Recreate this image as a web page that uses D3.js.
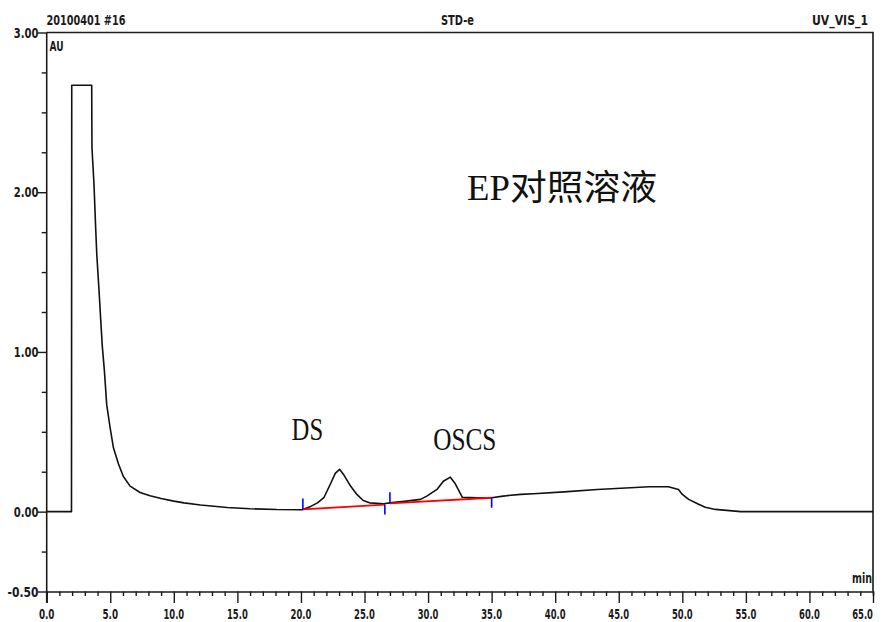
<!DOCTYPE html>
<html><head><meta charset="utf-8">
<script src="https://cdn.jsdelivr.net/npm/d3@7"></script>
<style>html,body{margin:0;padding:0;background:#fff;}svg{display:block;}</style>
</head><body>
<script>
// ---- data ----
const headerLeft = "20100401 #16";
const headerMid = "STD-e";
const headerRight = "UV_VIS_1";
const yUnit = "AU";
const xUnit = "min";
const chartTitle = "EP对照溶液";
const xDomain = [0, 65];
const yDomain = [-0.5, 3.0];
const xMajorTicks = [0,5,10,15,20,25,30,35,40,45,50,55,60,65];
const xTickLabels = ["0.0","5.0","10.0","15.0","20.0","25.0","30.0","35.0","40.0","45.0","50.0","55.0","60.0","65.0"];
const yMajorTicks = [-0.5, 0, 1, 2, 3];
const yTickLabels = ["-0.50","0.00","1.00","2.00","3.00"];
const signalTimes = [0,1.95,1.97,3.54,3.56,3.72,3.85,3.94,4.12,4.25,4.38,4.54,4.72,4.98,5.25,5.64,6.03,6.56,7.35,8.13,9.0,10.0,10.8,12.1,14.2,16.0,18.1,20.1,20.7,21.3,21.8,22.3,22.7,23.04,23.35,23.9,24.4,24.9,25.4,26.5,27.0,28.3,29.4,29.9,30.7,31.2,31.75,32.1,32.7,33.9,35.0,35.9,36.2,37.3,38.3,40.7,43.3,47.4,48.9,49.7,50.0,50.5,51.2,51.8,52.6,54.6,65.0];
const signalValues = [0,0,2.67,2.67,2.28,2.05,1.78,1.61,1.38,1.20,1.03,0.88,0.67,0.53,0.40,0.30,0.22,0.16,0.12,0.10,0.082,0.066,0.055,0.042,0.026,0.018,0.013,0.012,0.03,0.055,0.087,0.17,0.24,0.265,0.233,0.16,0.108,0.07,0.055,0.049,0.055,0.066,0.077,0.097,0.139,0.19,0.216,0.18,0.09,0.087,0.087,0.097,0.10,0.108,0.112,0.124,0.139,0.156,0.156,0.139,0.108,0.077,0.049,0.028,0.014,0.0,0.0];
const peakNames = ["DS","OSCS"];
const peakLabelTimes = [19.26, 30.4];
const peakLabelValues = [0.45, 0.385];
const peakStartTimes = [20.15, 27.0];
const peakEndTimes = [26.6, 35.0];
const peakStartBase = [0.014, 0.052];
const peakEndBase = [0.044, 0.087];

// ---- layout ----
const W = 883, H = 622;
const svg = d3.select("body").append("svg").attr("width", W).attr("height", H);
const x = d3.scaleLinear().domain(xDomain).range([46.7, 873]);
const y = d3.scaleLinear().domain(yDomain).range([591.5, 32.5]);
const ink = "#1a1a1a";
const smallFont = "'Liberation Sans Narrow','DejaVu Sans Condensed','Liberation Sans',sans-serif";

// frame
const frame = svg.append("g").attr("stroke", ink).attr("stroke-width", 1.6).attr("fill", "none");
frame.append("path").attr("d", `M${x(0)},${y(3)}H${x(65)}V${y(-0.5)}`);

// x axis
const xAxis = d3.axisBottom(x)
  .tickValues(d3.range(0, 66, 1))
  .tickSize(4).tickFormat("");
const gx = svg.append("g").attr("transform", `translate(0,${y(-0.5)})`).call(xAxis);
gx.select(".domain").attr("stroke", ink).attr("stroke-width", 1.6);
gx.selectAll(".tick line").attr("stroke", ink).attr("stroke-width", 1.4)
  .attr("y2", d => (d % 5 === 0 ? 11.5 : 4.5));
const lastTick = xMajorTicks.length - 1;
svg.append("g").selectAll("text").data(xMajorTicks).join("text")
  .attr("x", (d, i) => (i === lastTick ? W - 10 : x(d))).attr("y", 619)
  .attr("text-anchor", (d, i) => (i === lastTick ? "end" : "middle"))
  .attr("font-family", smallFont).attr("font-size", 14).attr("font-weight", "bold")
  .attr("fill", ink)
  .attr("textLength", (d, i) => xTickLabels[i].length * 5.2)
  .attr("lengthAdjust", "spacingAndGlyphs")
  .text((d, i) => xTickLabels[i]);

// y axis
const yAxis = d3.axisLeft(y)
  .tickValues(d3.range(-0.5, 3.001, 0.25))
  .tickSize(5).tickFormat("");
const gy = svg.append("g").attr("transform", `translate(${x(0)},0)`).call(yAxis);
gy.select(".domain").remove();
gy.selectAll(".tick line").attr("stroke", ink).attr("stroke-width", 1.4)
  .attr("x2", d => (yMajorTicks.some(v => Math.abs(v - d) < 1e-6) ? -9 : -5));
svg.append("line").attr("x1", x(0)).attr("x2", x(0)).attr("y1", y(3)).attr("y2", y(-0.5) + 11.5)
  .attr("stroke", ink).attr("stroke-width", 1.6);
svg.append("g").selectAll("text").data(yMajorTicks).join("text")
  .attr("x", 38.5).attr("y", d => y(d) + 5)
  .attr("text-anchor", "end")
  .attr("font-family", smallFont).attr("font-size", 14).attr("font-weight", "bold")
  .attr("fill", ink)
  .attr("textLength", (d, i) => yTickLabels[i].length * 6.2)
  .attr("lengthAdjust", "spacingAndGlyphs")
  .text((d, i) => yTickLabels[i]);

// header texts
svg.append("text").attr("x", 46.5).attr("y", 25).attr("font-family", smallFont).attr("font-size", 14)
  .attr("font-weight", "bold").attr("fill", ink).attr("textLength", 79).attr("lengthAdjust", "spacingAndGlyphs").text(headerLeft);
svg.append("text").attr("x", 441).attr("y", 25).attr("font-family", smallFont).attr("font-size", 14)
  .attr("font-weight", "bold").attr("fill", ink).attr("textLength", 33).attr("lengthAdjust", "spacingAndGlyphs").text(headerMid);
svg.append("text").attr("x", 812).attr("y", 25).attr("font-family", smallFont).attr("font-size", 14)
  .attr("font-weight", "bold").attr("fill", ink).attr("textLength", 56).attr("lengthAdjust", "spacingAndGlyphs").text(headerRight);
svg.append("text").attr("x", 49.5).attr("y", 51).attr("font-family", smallFont).attr("font-size", 14)
  .attr("font-weight", "bold").attr("fill", ink).attr("textLength", 14).attr("lengthAdjust", "spacingAndGlyphs").text(yUnit);
svg.append("text").attr("x", 852).attr("y", 583).attr("font-family", smallFont).attr("font-size", 14)
  .attr("font-weight", "bold").attr("fill", ink).attr("textLength", 20).attr("lengthAdjust", "spacingAndGlyphs").text(xUnit);

// signal
const pts = signalTimes.map((t, i) => [t, signalValues[i]]);
const line = d3.line().x(d => x(d[0])).y(d => y(d[1]));
svg.append("path").datum(pts).attr("d", line)
  .attr("fill", "none").attr("stroke", "#111").attr("stroke-width", 1.6).attr("stroke-linejoin", "round");

// baselines (red)
svg.append("g").selectAll("line").data(peakNames).join("line")
  .attr("x1", (d, i) => x(peakStartTimes[i])).attr("y1", (d, i) => y(peakStartBase[i]))
  .attr("x2", (d, i) => x(peakEndTimes[i])).attr("y2", (d, i) => y(peakEndBase[i]))
  .attr("stroke", "#ff0000").attr("stroke-width", 1.8);

// delimiter ticks (blue)
const delim = svg.append("g").attr("stroke", "#0000ff").attr("stroke-width", 1.6);
peakNames.forEach((n, i) => {
  const sx = x(peakStartTimes[i]), sy = y(peakStartBase[i]);
  delim.append("line").attr("x1", sx).attr("x2", sx).attr("y1", sy - 11).attr("y2", sy);
  const ex = x(peakEndTimes[i]), ey = y(peakEndBase[i]);
  delim.append("line").attr("x1", ex).attr("x2", ex).attr("y1", ey).attr("y2", ey + 10);
});

// peak labels
svg.append("g").selectAll("text").data(peakNames).join("text")
  .attr("x", (d, i) => x(peakLabelTimes[i])).attr("y", (d, i) => y(peakLabelValues[i]))
  .attr("font-family", "'Liberation Serif','DejaVu Serif',serif").attr("font-size", 31)
  .attr("fill", "#111")
  .attr("textLength", d => d.length * 15.8).attr("lengthAdjust", "spacingAndGlyphs")
  .text(d => d);

// title
svg.append("text").attr("x", 467).attr("y", 200)
  .attr("font-family", "'Liberation Serif','Noto Sans CJK SC',serif").attr("font-size", 35)
  .attr("fill", "#111").attr("textLength", 190).attr("lengthAdjust", "spacingAndGlyphs")
  .text(chartTitle);
</script>
</body></html>
